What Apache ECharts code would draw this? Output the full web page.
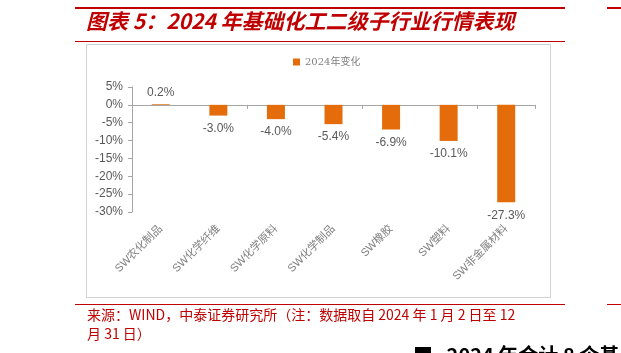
<!DOCTYPE html>
<html><head><meta charset="utf-8">
<script src="https://cdn.jsdelivr.net/npm/echarts@6/dist/echarts.min.js"></script>
<style>html,body{margin:0;padding:0;background:#fff}#c{width:621px;height:353px}</style>
</head><body><div id="c"></div>
<script>
const categories = ['SW农化制品','SW化学纤维','SW化学原料','SW化学制品','SW橡胶','SW塑料','SW非金属材料'];
const changes = [0.2, -3.0, -4.0, -5.4, -6.9, -10.1, -27.3];
const seriesName = '2024年变化';
const yMin = -30, yMax = 5, yStep = 5;

const red = '#C00000';
const gray = '#595959';
const chart = echarts.init(document.getElementById('c'), null, {renderer:'canvas'});
chart.setOption({
  animation:false,
  backgroundColor:'#fff',
  grid:{left:132, right:86, top:87, bottom:141, containLabel:false},
  legend:{left:288, top:52, itemWidth:7, itemHeight:7, icon:'rect', itemGap:4,
    textStyle:{color:'#7f7f7f', fontSize:10, fontFamily:'"DejaVu Serif", "Noto Sans CJK SC", serif'},
    data:[seriesName]},
  xAxis:[{type:'category', data:categories, position:'bottom',
      axisLine:{onZero:true, lineStyle:{color:'#A6A6A6', width:1}},
      axisTick:{show:true, alignWithLabel:false, length:4, lineStyle:{color:'#A6A6A6'}},
      axisLabel:{show:false}},
    {type:'category', data:categories, position:'bottom', offset:0,
      axisLine:{show:false, onZero:false}, axisTick:{show:false},
      axisLabel:{show:true, rotate:45, margin:15, color:'#808080', fontSize:11,
        fontFamily:'Arial, "Liberation Sans", "Noto Sans CJK SC", sans-serif'}}],
  yAxis:{type:'value', min:yMin, max:yMax, interval:yStep,
    axisLine:{show:true, lineStyle:{color:'#A6A6A6'}},
    axisTick:{show:true, length:4, lineStyle:{color:'#A6A6A6'}},
    splitLine:{show:false},
    axisLabel:{formatter:'{value}%', color:gray, fontSize:12, margin:9,
      fontFamily:'Arial, "Liberation Sans", sans-serif'}},
  series:[{name:seriesName, type:'bar', barWidth:18, xAxisIndex:0,
    data:changes.map(v=>({value:v, label:{position: v<0?'bottom':'top', distance: v<0?7:5}})),
    itemStyle:{color:'#E46C0A'},
    label:{show:true, formatter:p=>p.value.toFixed(1)+'%', color:gray, fontSize:12,
      fontFamily:'Arial, "Liberation Sans", sans-serif'}}],
  graphic:[
    {type:'line', shape:{x1:75,y1:8,x2:565,y2:8}, style:{stroke:red, lineWidth:2}},
    {type:'line', shape:{x1:607,y1:8,x2:621,y2:8}, style:{stroke:red, lineWidth:2}},
    {type:'text', left:86, top:11, style:{text:'图表 5：2024 年基础化工二级子行业行情表现', fill:red,
      font:'italic bold 21px "Noto Sans CJK SC", sans-serif'}},
    {type:'line', shape:{x1:75,y1:41.5,x2:565,y2:41.5}, style:{stroke:red, lineWidth:1}},
    {type:'rect', shape:{x:86.5,y:44.5,width:464,height:253}, style:{fill:'none', stroke:'#D0D0D0', lineWidth:1}},
    {type:'line', shape:{x1:75,y1:304.5,x2:565,y2:304.5}, style:{stroke:red, lineWidth:1}},
    {type:'line', shape:{x1:607,y1:304.5,x2:621,y2:304.5}, style:{stroke:red, lineWidth:1}},
    {type:'text', left:87, top:305, style:{text:'来源：WIND，中泰证券研究所（注：数据取自 2024 年 1 月 2 日至 12\n月 31 日）',
      fill:red, lineHeight:19, font:'14px "Noto Sans CJK SC", sans-serif'}},
    {type:'text', left:413, top:345, style:{text:'■   2024 年合计 8 个基', fill:'#000',
      font:'bold 20px "Noto Sans CJK SC", sans-serif'}}
  ]
});
</script></body></html>
